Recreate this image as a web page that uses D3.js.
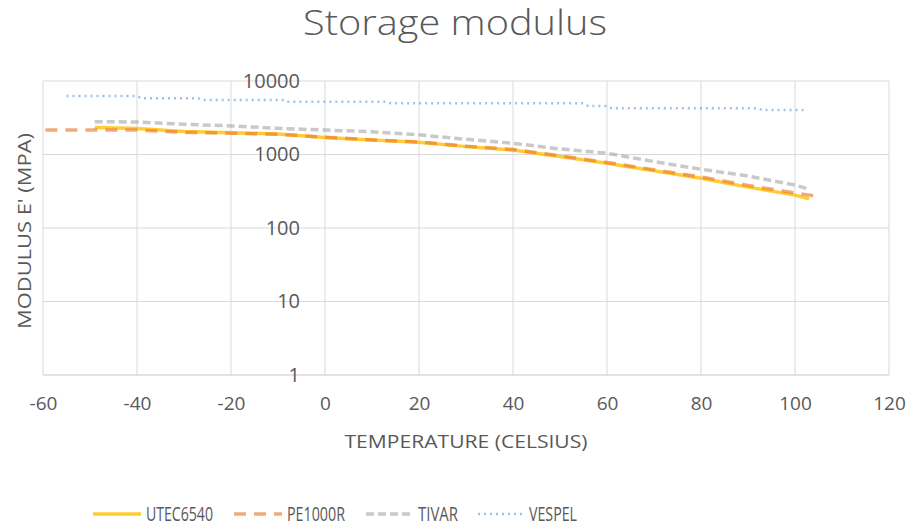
<!DOCTYPE html>
<html>
<head>
<meta charset="utf-8">
<script src="https://cdn.jsdelivr.net/npm/d3@7"></script>
<style>
body { margin: 0; background: #fff; }
text { font-family: "Open Sans", Lato, sans-serif; fill: #595959; }
</style>
</head>
<body>
<div id="chart"></div>
<script>
// Temperatures (Celsius) and modulus E' (MPa) per series
var utecTemp = [-49, -40, -30, -20, -10, 0, 10, 20, 30, 40, 50, 60, 70, 80, 90, 100, 103];
var utecVal  = [2330, 2250, 2050, 1980, 1900, 1700, 1570, 1470, 1280, 1150, 940, 760, 600, 475, 360, 280, 250];

var peTemp = [-59.5, -40, -30, -20, -10, 0, 10, 20, 30, 40, 50, 60, 70, 80, 90, 100, 104];
var peVal  = [2150, 2150, 2000, 1950, 1880, 1720, 1580, 1480, 1300, 1170, 960, 780, 620, 495, 380, 300, 275];

var tivarTemp = [-49, -40, -30, -20, -10, 0, 10, 20, 30, 40, 50, 60, 70, 80, 90, 100, 103];
var tivarVal  = [2800, 2770, 2580, 2450, 2270, 2150, 2040, 1850, 1610, 1420, 1190, 1040, 800, 630, 510, 385, 337];

var vespelTemp = [-55, -40, -39, -27, -26, -9, -8, 13, 14, 55, 56, 60, 61, 92, 93, 102];
var vespelVal  = [6250, 6250, 5820, 5820, 5510, 5510, 5220, 5220, 4980, 4980, 4570, 4570, 4250, 4250, 4030, 4030];

var seriesNames = ['UTEC6540', 'PE1000R', 'TIVAR', 'VESPEL'];
var xTicks = [-60, -40, -20, 0, 20, 40, 60, 80, 100, 120];
var yTicks = [1, 10, 100, 1000, 10000];

var width = 915, height = 527;
var plotLeft = 43, plotRight = 889, plotTop = 81, plotBottom = 375;

var svg = d3.select('#chart')
	.append('svg')
	.attr('width', width)
	.attr('height', height);

var x = d3.scaleLinear().domain([-60, 120]).range([plotLeft, plotRight]);
var y = d3.scaleLog().domain([1, 10000]).range([plotBottom, plotTop]);

// gridlines
svg.append('g')
	.selectAll('line')
	.data(xTicks)
	.enter()
	.append('line')
	.attr('x1', function(d){ return x(d); })
	.attr('x2', function(d){ return x(d); })
	.attr('y1', plotTop)
	.attr('y2', plotBottom)
	.attr('stroke', '#d9d9d9')
	.attr('stroke-width', 1);

svg.append('g')
	.selectAll('line')
	.data(yTicks)
	.enter()
	.append('line')
	.attr('x1', plotLeft)
	.attr('x2', plotRight)
	.attr('y1', function(d){ return y(d); })
	.attr('y2', function(d){ return y(d); })
	.attr('stroke', function(d){ return d === 1 ? '#c8c8c8' : '#d9d9d9'; })
	.attr('stroke-width', 1);

// x axis labels
var xAxis = d3.axisBottom(x).tickValues(xTicks).tickFormat(function(d){ return String(d); }).tickSize(0).tickPadding(22);
var gx = svg.append('g')
	.attr('transform', 'translate(0,' + plotBottom + ')')
	.call(xAxis);
gx.select('.domain').remove();
gx.attr('font-family', null);
gx.selectAll('text').style('font-size', '19px').attr('fill', '#595959');

// y axis labels sit at x = 0
var yAxis = d3.axisLeft(y).tickValues(yTicks).tickFormat(function(d){ return String(d); }).tickSize(0).tickPadding(25);
var gy = svg.append('g')
	.attr('transform', 'translate(' + x(0) + ',0)')
	.call(yAxis);
gy.select('.domain').remove();
gy.attr('font-family', null);
gy.selectAll('text').style('font-size', '20px').attr('fill', '#595959');

// titles
svg.append('text')
	.attr('x', 455)
	.attr('y', 35)
	.attr('text-anchor', 'middle')
	.attr('textLength', 304)
	.attr('lengthAdjust', 'spacingAndGlyphs')
	.style('font-size', '35px')
	.style('font-weight', 300)
	.text('Storage modulus');

svg.append('text')
	.attr('x', 466)
	.attr('y', 448)
	.attr('text-anchor', 'middle')
	.attr('textLength', 243)
	.attr('lengthAdjust', 'spacingAndGlyphs')
	.style('font-size', '18px')
	.text('TEMPERATURE (CELSIUS)');

svg.append('text')
	.attr('transform', 'translate(31,231) rotate(-90)')
	.attr('text-anchor', 'middle')
	.attr('textLength', 196)
	.attr('lengthAdjust', 'spacingAndGlyphs')
	.style('font-size', '18px')
	.text("MODULUS E' (MPA)");

// series
var styles = [
	{ color: '#ffc000', dash: null, w: 3.5, op: 0.8 },
	{ color: '#ed7d31', dash: '12,8', w: 3.5, op: 0.65 },
	{ color: '#a5a5a5', dash: '8,4', w: 3.5, op: 0.6 },
	{ color: '#5b9bd5', dash: '2,4', w: 2.5, op: 0.6 }
];

var seriesData = [
	d3.zip(utecTemp, utecVal),
	d3.zip(peTemp, peVal),
	d3.zip(tivarTemp, tivarVal),
	d3.zip(vespelTemp, vespelVal)
];

var line = d3.line()
	.x(function(d){ return x(d[0]); })
	.y(function(d){ return y(d[1]); });

var drawOrder = [3, 2, 0, 1];
drawOrder.forEach(function(i){
	svg.append('path')
		.datum(seriesData[i])
		.attr('d', line)
		.attr('fill', 'none')
		.attr('stroke', styles[i].color)
		.attr('stroke-width', styles[i].w)
		.attr('stroke-opacity', styles[i].op)
		.attr('stroke-dasharray', styles[i].dash);
});

// legend
var legendX = [93, 234, 366, 478];
var legendLen = [48, 48, 47, 46];
var legendTextLen = [67, 58, 40, 48];
var legendY = 514;
var lg = svg.append('g');
seriesNames.forEach(function(name, i){
	lg.append('line')
		.attr('x1', legendX[i])
		.attr('x2', legendX[i] + legendLen[i])
		.attr('y1', legendY)
		.attr('y2', legendY)
		.attr('stroke', styles[i].color)
		.attr('stroke-width', styles[i].w)
		.attr('stroke-opacity', styles[i].op)
		.attr('stroke-dasharray', styles[i].dash);
	lg.append('text')
		.attr('x', legendX[i] + legendLen[i] + 5)
		.attr('y', legendY + 7)
		.attr('textLength', legendTextLen[i])
		.attr('lengthAdjust', 'spacingAndGlyphs')
		.style('font-size', '20px')
		.text(name);
});
</script>
</body>
</html>
